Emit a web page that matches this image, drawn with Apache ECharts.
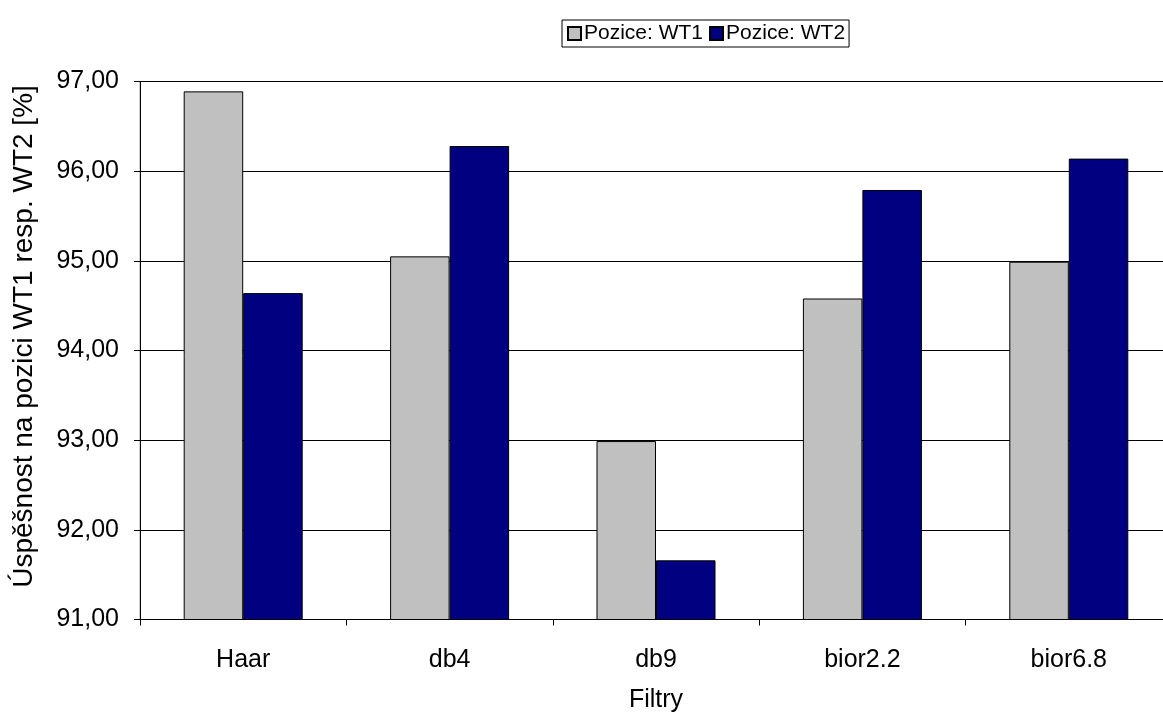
<!DOCTYPE html>
<html>
<head>
<meta charset="utf-8">
<script src="https://cdn.jsdelivr.net/npm/echarts@6/dist/echarts.min.js"></script>
<style>
html,body{margin:0;padding:0;background:#fff;}
#chart{width:1163px;height:713px;}
</style>
</head>
<body>
<div id="chart"></div>
<script>
var categories = ['Haar', 'db4', 'db9', 'bior2.2', 'bior6.8'];
var seriesNames = ['Pozice: WT1', 'Pozice: WT2'];
var wt1 = [96.89, 95.05, 92.99, 94.58, 94.99];
var wt2 = [94.64, 96.28, 91.66, 95.79, 96.14];
var yTicks = [91, 92, 93, 94, 95, 96, 97];
var xTitle = 'Filtry';
var yTitle = 'Úspěšnost na pozici WT1 resp. WT2 [%]';

var font = 'Liberation Sans, Arial, sans-serif';
var chart = echarts.init(document.getElementById('chart'), null, {renderer: 'canvas'});
chart.setOption({
  animation: false,
  backgroundColor: '#ffffff',
  textStyle: {fontFamily: font, color: '#000'},
  legend: {
    top: 20,
    left: 562,
    data: seriesNames,
    icon: 'rect',
    itemWidth: 13,
    itemHeight: 13,
    itemGap: 6,
    padding: [3, 4, 3, 5],
    borderColor: '#000',
    borderWidth: 1,
    backgroundColor: '#fff',
    textStyle: {fontFamily: font, fontSize: 21, color: '#000', padding: [0, 0, 0, -2]}
  },
  grid: {
    left: 140,
    right: -9,
    top: 81.5,
    bottom: 713 - 619.5,
    show: true,
    borderColor: '#a0a0a0',
    borderWidth: 1,
    containLabel: false,
    outerBoundsMode: 'none'
  },
  xAxis: {
    type: 'category',
    data: categories,
    name: xTitle,
    nameLocation: 'middle',
    nameGap: 68,
    nameTextStyle: {fontFamily: font, fontSize: 25, color: '#000'},
    axisLine: {lineStyle: {color: '#000', width: 1}},
    axisTick: {show: true, length: 6, lineStyle: {color: '#000'}, alignWithLabel: false},
    axisLabel: {fontFamily: font, fontSize: 25, color: '#000', margin: 28},
    splitLine: {show: false}
  },
  yAxis: {
    type: 'value',
    min: yTicks[0],
    max: yTicks[yTicks.length - 1],
    interval: 1,
    name: yTitle,
    nameLocation: 'middle',
    nameGap: 102,
    nameRotate: 90,
    nameTextStyle: {fontFamily: font, fontSize: 28, color: '#000', padding: [0, 0, 0, 28]},
    axisLine: {show: true, lineStyle: {color: '#000', width: 1}},
    axisTick: {show: true, length: 6, lineStyle: {color: '#000'}},
    axisLabel: {
      fontFamily: font, fontSize: 25, color: '#000', margin: 21,
      formatter: function (v) { return v.toFixed(2).replace('.', ','); }
    },
    splitLine: {show: true, lineStyle: {color: '#000', width: 1}}
  },
  series: [
    {
      name: seriesNames[0],
      type: 'bar',
      data: wt1,
      barWidth: 59.5,
      barGap: '0%',
      itemStyle: {color: '#c0c0c0', borderColor: '#000', borderWidth: 1}
    },
    {
      name: seriesNames[1],
      type: 'bar',
      data: wt2,
      barWidth: 59.5,
      barGap: '0%',
      itemStyle: {color: '#000080', borderColor: '#000', borderWidth: 1}
    }
  ]
});
</script>
</body>
</html>
